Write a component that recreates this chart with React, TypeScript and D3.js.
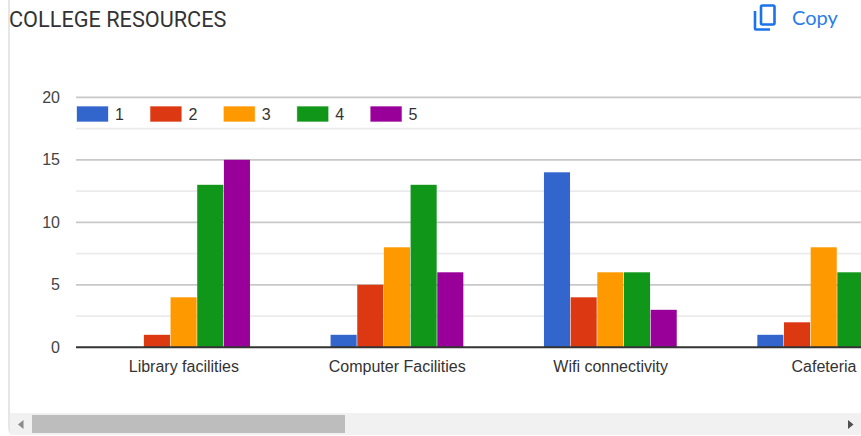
import * as d3 from 'd3';

const categories = ['Library facilities', 'Computer Facilities', 'Wifi connectivity', 'Cafeteria'];
const seriesNames = ['1', '2', '3', '4', '5'];
const seriesColours = ['#3366CC', '#DC3912', '#FF9900', '#109618', '#990099'];

const rating1 = [0, 1, 14, 1];
const rating2 = [1, 5, 4, 2];
const rating3 = [4, 8, 6, 8];
const rating4 = [13, 13, 6, 6];
const rating5 = [15, 6, 3, 0];
const ratings = [rating1, rating2, rating3, rating4, rating5];

const majorTicks = [0, 5, 10, 15, 20];
const minorTicks = [2.5, 7.5, 12.5, 17.5];

const WIDTH = 861;
const HEIGHT = 436;
const labelFont = "'Liberation Sans', Arial, sans-serif";

export default function App() {
  const y = d3.scaleLinear().domain([0, 20]).range([347.3, 97.3]);
  const x = d3.scaleBand<string>().domain(categories).range([77.2, 930.7]).paddingInner(0.375).paddingOuter(0.1875);
  const xSeries = d3.scaleBand<string>().domain(seriesNames).range([0, x.bandwidth()]);
  const legend = d3.scaleBand<string>().domain(seriesNames).range([77, 77 + 73.4 * 5]);

  return (
    <div style={{ position: 'absolute', left: 0, top: 0, width: WIDTH, height: HEIGHT, overflow: 'hidden', background: '#fff' }}>
      <svg width={WIDTH} height={HEIGHT} style={{ display: 'block' }}>
        {/* card edge */}
        <path d="M9 0V426Q9 432 11 433" fill="none" stroke="#e6e6e6" strokeWidth={2} />

        <text x={9} y={27} fontFamily="Roboto, sans-serif" fontSize={21.7} fill="#333">
          COLLEGE RESOURCES
        </text>

        {/* copy button */}
        <g fill="none" stroke="#1a73e8" strokeWidth={2.6}>
          <rect x={761} y={5.5} width={13.5} height={19} rx={1.5} />
          <path d="M755 11V28.5Q755 29.5 756 29.5H770" />
        </g>
        <text x={792} y={25} fontFamily="Lato, sans-serif" fontSize={20} fill="#2a7de9">
          Copy
        </text>

        {minorTicks.map((t) => (
          <line key={t} x1={76} x2={WIDTH} y1={y(t)} y2={y(t)} stroke="#ebebeb" strokeWidth={1.7} />
        ))}
        {majorTicks.slice(1).map((t) => (
          <line key={t} x1={76} x2={WIDTH} y1={y(t)} y2={y(t)} stroke="#c8c8c8" strokeWidth={1.7} />
        ))}

        {majorTicks.map((t) => (
          <text key={t} x={60} y={y(t) + 5.5} textAnchor="end" fontFamily={labelFont} fontSize={16} fill="#444">
            {t}
          </text>
        ))}

        {categories.map((c, i) => (
          <g key={c} transform={`translate(${x(c)},0)`}>
            {seriesNames.map((s, k) =>
              ratings[k][i] > 0 ? (
                <rect
                  key={s}
                  x={xSeries(s)}
                  y={y(ratings[k][i])}
                  width={xSeries.bandwidth() - 0.6}
                  height={y(0) - y(ratings[k][i])}
                  fill={seriesColours[k]}
                />
              ) : null
            )}
          </g>
        ))}

        <line x1={76} x2={WIDTH} y1={y(0)} y2={y(0)} stroke="#333" strokeWidth={2} />

        {categories.map((c) => (
          <text
            key={c}
            x={(x(c) ?? 0) + x.bandwidth() / 2}
            y={371.5}
            textAnchor="middle"
            fontFamily={labelFont}
            fontSize={16}
            fill="#333"
          >
            {c}
          </text>
        ))}

        {seriesNames.map((s, k) => (
          <g key={s} transform={`translate(${legend(s)},0)`}>
            <rect x={0} y={106.5} width={31} height={15} fill={seriesColours[k]} stroke={seriesColours[k]} strokeOpacity={0.3} />
            <text x={38} y={120} fontFamily={labelFont} fontSize={16} fill="#333">
              {s}
            </text>
          </g>
        ))}

        {/* scrollbar */}
        <rect x={10} y={413} width={851} height={22} fill="#f1f1f1" />
        <rect x={32} y={415} width={313} height={18} fill="#bdbdbd" />
        <path d="M23.5 420V429L18 424.5Z" fill="#8a8a8a" />
        <path d="M848 420V429L853.5 424.5Z" fill="#505050" />
      </svg>
    </div>
  );
}
